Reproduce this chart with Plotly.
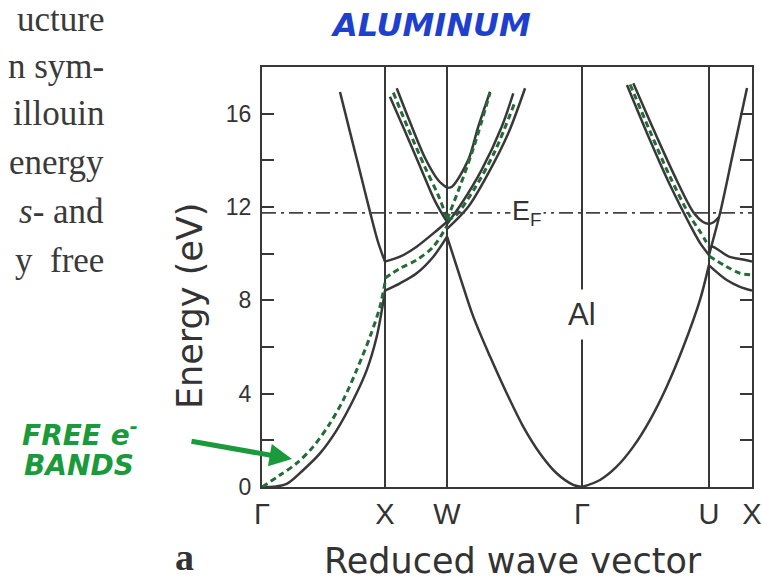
import plotly.graph_objects as go

# ---------------- data ----------------
K_POS = [0.0, 1.012, 1.523, 2.634, 3.679, 4.033]
K_LABELS = ["Γ", "X", "W", "Γ", "U", "X"]
E_TICKS = [0, 2, 4, 6, 8, 10, 12, 14, 16]
E_TICK_TEXT = ["0", "", "4", "", "8", "", "12", "", "16"]
E_FERMI = 11.75

# solid Al bands
b1_k = [0.0, 0.093, 0.203, 0.340, 0.477, 0.615, 0.751, 0.862, 0.944, 1.0, 1.012]
b1_E = [0.0, 0.01, 0.13, 0.73, 1.44, 2.44, 3.73, 5.01, 6.44, 8.0, 8.42]
b2_k = [0.642, 0.724, 0.807, 0.889, 0.955, 1.012]
b2_E = [16.93, 15.22, 13.50, 11.79, 10.50, 9.66]
b3_k = [1.012, 1.136, 1.273, 1.410, 1.523]
b3_E = [8.42, 8.73, 9.16, 9.87, 10.73]
b4_k = [1.012, 1.136, 1.273, 1.410, 1.523]
b4_E = [9.66, 9.87, 10.30, 10.87, 11.37]
b5_k = [1.109, 1.218, 1.342, 1.449, 1.523]
b5_E = [17.09, 15.64, 14.10, 13.16, 12.82]
b6_k = [1.053, 1.177, 1.300, 1.424, 1.523]
b6_E = [16.73, 15.25, 13.75, 12.25, 11.36]
b7_k = [1.523, 1.630, 1.739, 1.877, 2.014, 2.151, 2.288, 2.425, 2.562, 2.634]
b7_E = [10.73, 9.01, 7.30, 5.59, 4.02, 2.58, 1.44, 0.59, 0.09, 0.0]
b8_k = [1.523, 1.564, 1.698, 1.780, 1.877]
b8_E = [12.82, 12.87, 14.02, 15.44, 16.94]
b9_k = [1.523, 1.644, 1.808, 1.973, 2.068]
b9_E = [11.27, 12.16, 13.59, 15.44, 16.87]
b10_k = [1.523, 1.698, 1.863, 2.027, 2.165]
b10_E = [11.06, 12.01, 13.45, 15.16, 17.09]
b11_k = [2.634, 2.782, 2.919, 3.056, 3.193, 3.331, 3.468, 3.605, 3.679]
b11_E = [0.0, 0.30, 0.87, 1.73, 2.87, 4.30, 6.01, 8.02, 9.52]
b12_k = [3.056, 3.249, 3.412, 3.549, 3.630, 3.679]
b12_E = [17.30, 15.01, 13.16, 11.79, 11.36, 11.27]
b13_k = [3.004, 3.193, 3.358, 3.523, 3.605, 3.679]
b13_E = [17.23, 14.87, 12.94, 11.23, 10.46, 9.94]
b14_k = [3.679, 3.770, 3.877, 3.992]
b14_E = [9.94, 11.74, 14.32, 17.10]
b15_k = [3.679, 3.720, 3.761]
b15_E = [11.27, 11.36, 11.57]
b16_k = [3.679, 3.712, 3.844, 3.959, 4.033]
b16_E = [10.29, 10.30, 9.87, 9.75, 9.66]
b17_k = [3.679, 3.825, 3.934, 4.033]
b17_E = [9.50, 8.87, 8.58, 8.42]

# dashed free-electron bands
g1_k = [0.0, 0.148, 0.286, 0.422, 0.560, 0.669, 0.779, 0.889, 0.971, 1.012]
g1_E = [0.0, 0.51, 1.02, 1.73, 2.73, 3.73, 5.01, 6.44, 7.73, 8.75]
g2_k = [1.012, 1.136, 1.273, 1.410, 1.523]
g2_E = [8.95, 9.37, 9.73, 10.30, 11.20]
g3_k = [1.081, 1.204, 1.342, 1.451, 1.523]
g3_E = [16.90, 15.35, 13.70, 12.50, 11.50]
g4_k = [1.523, 1.588, 1.753, 1.918, 2.082]
g4_E = [11.46, 11.60, 12.82, 14.40, 16.50]
g5_k = [1.523, 1.630, 1.745, 1.877]
g5_E = [11.46, 12.90, 14.60, 16.90]
g6_k = [3.030, 3.193, 3.358, 3.523, 3.605, 3.679]
g6_E = [17.25, 15.25, 13.30, 11.60, 10.95, 10.30]
g7_k = [3.679, 3.825, 3.934, 4.033]
g7_E = [9.90, 9.44, 9.16, 9.09]

SOLID = [(b1_k, b1_E), (b2_k, b2_E), (b3_k, b3_E), (b4_k, b4_E), (b5_k, b5_E),
         (b6_k, b6_E), (b7_k, b7_E), (b8_k, b8_E), (b9_k, b9_E), (b10_k, b10_E),
         (b11_k, b11_E), (b12_k, b12_E), (b13_k, b13_E), (b14_k, b14_E),
         (b15_k, b15_E), (b16_k, b16_E), (b17_k, b17_E)]
DASHED = [(g1_k, g1_E), (g2_k, g2_E), (g3_k, g3_E), (g4_k, g4_E),
          (g5_k, g5_E), (g6_k, g6_E), (g7_k, g7_E)]

INK = "#383838"
GREEN = "#246b37"

fig = go.Figure()
for k, e in SOLID:
    fig.add_trace(go.Scatter(x=k, y=e, mode="lines", hoverinfo="skip",
                             line=dict(color=INK, width=2.5, shape="spline", smoothing=0.9)))
for k, e in DASHED:
    fig.add_trace(go.Scatter(x=k, y=e, mode="lines", hoverinfo="skip",
                             line=dict(color=GREEN, width=3, dash="6px,4px",
                                       shape="spline", smoothing=0.9)))

# Fermi level
fig.add_shape(type="line", xref="x", yref="y", x0=K_POS[0], x1=K_POS[-1],
              y0=E_FERMI, y1=E_FERMI,
              line=dict(color="#444444", width=1.6, dash="14px,5px,3px,5px"))

L, T, W, H = 262, 67, 490, 420


def px(x):
    return (x - L) / W


def py(y):
    return (T + H - y) / H


fig.update_layout(
    width=762, height=583,
    margin=dict(l=L, r=762 - L - W, t=T, b=583 - T - H, autoexpand=False),
    paper_bgcolor="white", plot_bgcolor="white", showlegend=False,
    font=dict(family="DejaVu Sans", color="#333333"),
    xaxis=dict(range=[K_POS[0], K_POS[-1]], tickvals=K_POS, ticktext=K_LABELS,
               showgrid=True, gridcolor=INK, gridwidth=1.6, zeroline=False,
               showline=True, linecolor=INK, linewidth=2, mirror=True,
               ticks="", ticklabelstandoff=0, automargin=False,
               tickfont=dict(family="Liberation Sans", size=29, color="#333333")),
    yaxis=dict(range=[0, 18], tickvals=E_TICKS, ticktext=E_TICK_TEXT,
               showgrid=False, zeroline=False, showline=True, linecolor=INK,
               linewidth=2, mirror="ticks", ticks="inside", ticklen=12,
               tickwidth=2, tickcolor=INK, ticklabelstandoff=4, automargin=False,
               tickfont=dict(family="Liberation Sans", size=23, color="#333333")),
)


def note(text, x, y, size, family="DejaVu Sans", color="#333333", **kw):
    d = dict(text=text, xref="paper", yref="paper", x=px(x), y=py(y),
             xanchor="center", yanchor="middle", showarrow=False,
             font=dict(family=family, size=size, color=color))
    d.update(kw)
    return d


ann = []
ann.append(note("Energy (eV)", 190, 306, 35, textangle=-90))
ann.append(note("Reduced wave vector", 513, 561, 35))
ann.append(dict(text="E<sub>F</sub>", xref="x", yref="y", x=2.181, y=E_FERMI,
                xanchor="center", yanchor="middle",
                showarrow=False, bgcolor="white", borderpad=1,
                font=dict(family="Liberation Sans", size=27, color="#333333")))
ann.append(dict(text="Al", xref="x", yref="y", x=K_POS[3], y=7.41,
                xanchor="center", yanchor="middle",
                showarrow=False, bgcolor="white", borderpad=7,
                font=dict(family="Liberation Sans", size=31, color="#333333")))
ann.append(note("<b>a</b>", 184, 557, 38, family="Liberation Serif"))
ann.append(note("<b><i>ALUMINUM</i></b>", 430, 25, 32, color="#1f3fcf"))
ann.append(note("<b><i>FREE e<sup>-</sup></i></b>", 20, 433, 28, color="#1a9a3a", xanchor="left"))
ann.append(note("<b><i>BANDS</i></b>", 22, 465, 28, color="#1a9a3a", xanchor="left"))
ann.append(dict(text="", xref="paper", yref="paper", x=px(292), y=py(459),
                ax=-102, ay=-18, showarrow=True, arrowhead=2, arrowsize=0.9,
                arrowwidth=5, arrowcolor="#1a9a3a"))
para = ["ucture", "n sym-", "illouin", "energy", "<i>s</i>- and", "y  free"]
para_y = [20, 66, 113, 162, 211, 260]
for t, yy in zip(para, para_y):
    ann.append(note(t, 106, yy, 35, family="Liberation Serif", color="#3a3a3a", xanchor="right"))
fig.update_layout(annotations=ann)

fig.write_html("out.html", config={"displayModeBar": False},
               post_script="document.body.style.margin='0px';")
